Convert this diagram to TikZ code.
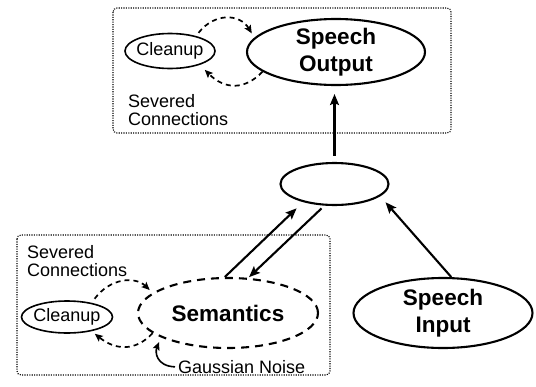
\documentclass[tikz,border=0pt]{standalone}
\usepackage{fontspec}
\setmainfont{Liberation Sans}
\usetikzlibrary{shapes.geometric,arrows.meta}
\begin{document}
\begin{tikzpicture}[x=1pt,y=-1pt,
  bigell/.style={ellipse,draw,line width=2.1pt,inner xsep=0pt,inner ysep=-8pt,align=center,
    font=\fontsize{22.5}{27}\selectfont\bfseries},
  smallell/.style={ellipse,draw,line width=1.6pt,inner xsep=-5pt,inner ysep=0pt,
    font=\fontsize{18}{19}\selectfont},
  txt/.style={inner sep=0pt,align=left,font=\fontsize{18}{18.5}\selectfont},
  grpbox/.style={draw,line width=1.1pt,dash pattern=on 1.1pt off 1.3pt,rounded corners=4pt},
  arr/.style={line width=2.1pt,-{Stealth[length=11pt,width=9pt,inset=2pt]}},
  dasharr/.style={line width=1.7pt,dash pattern=on 5pt off 4pt,-{Stealth[length=8pt,width=7pt,inset=1.5pt]}},
  noisearr/.style={line width=1.6pt,-{Stealth[length=8pt,width=7pt,inset=1.5pt]}}
]
\useasboundingbox (0,0) rectangle (536,386);

% group boxes
\draw[grpbox] (113,8) rectangle (451,133);
\draw[grpbox] (17,235) rectangle (330,375);

% nodes
\node[bigell,minimum width=178pt,minimum height=66pt] (so) at (336,52) {Speech\\Output};
\node[smallell,minimum width=90pt,minimum height=35pt] (cl1) at (170,51) {Cleanup};
\node[bigell,minimum width=108pt,minimum height=42pt] (mid) at (334.5,184) {};
\node[bigell,minimum width=179pt,minimum height=70pt] (si) at (443,313) {Speech\\Input};
\node[bigell,dash pattern=on 8pt off 6pt,minimum width=180pt,minimum height=70pt] (sem) at (228,313) {Semantics};
\node[smallell,minimum width=91pt,minimum height=32pt] (cl2) at (67,317) {Cleanup};

\node[txt,anchor=north west] (sc1) at (128,94) {Severed\\Connections};
\node[txt,anchor=north west] (sc2) at (27,245) {Severed\\Connections};
\node[txt,anchor=west] (gn) at (178,367) {Gaussian Noise};

% solid arrows
\draw[arr,shorten <=6pt,shorten >=8pt] (mid.north) -- (mid.north |- so.south);
\draw[arr,shorten >=8pt] (si.77) -- (mid.-15);
\draw[arr,shorten >=9pt] (sem.95) -- (mid.-150);
\draw[arr,shorten <=4pt,shorten >=1pt] (mid.-115) -- (sem.60);

% severed connections (top)
\draw[dasharr,shorten <=4pt,shorten >=5pt] (cl1.30) .. controls (215,12) and (240,14) .. (so.170);
\draw[dasharr,shorten >=7pt] (so.-165) .. controls (245,90) and (225,90) .. (cl1.-25);

% severed connections (bottom)
\draw[dasharr,shorten <=5pt,shorten >=4pt] (cl2.30) .. controls (110,278) and (135,276) .. (sem.165);
\draw[dasharr,shorten >=4pt] (sem.-165) .. controls (135,352) and (115,350) .. (cl2.-30);

% gaussian noise
\draw[noisearr,shorten <=3pt,shorten >=5pt] (gn.west) .. controls (156,366) and (155,352) .. (sem.-160);
\end{tikzpicture}
\end{document}
